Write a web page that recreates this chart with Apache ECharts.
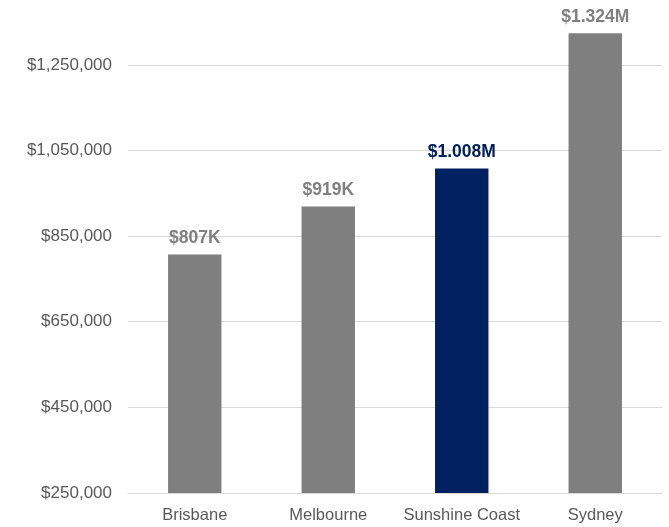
<!DOCTYPE html>
<html>
<head>
<meta charset="utf-8">
<script src="https://cdn.jsdelivr.net/npm/echarts@6/dist/echarts.min.js"></script>
<style>html,body{margin:0;padding:0;background:#fff;}#c{width:669px;height:527px;}</style>
</head>
<body>
<div id="c"></div>
<script>
const categories = ['Brisbane', 'Melbourne', 'Sunshine Coast', 'Sydney'];
const values = [807000, 919000, 1008000, 1324000];
const highlightIndex = 2;
const yMin = 250000, yMax = 1350000, yInterval = 200000;

const GRAY = '#7f7f7f', NAVY = '#002060';
const font = '"Liberation Sans", Arial, Helvetica, sans-serif';

function fmtShort(v) {
  return v >= 1e6 ? '$' + (v / 1e6).toFixed(3) + 'M' : '$' + Math.round(v / 1000) + 'K';
}

const chart = echarts.init(document.getElementById('c'));
chart.setOption({
  animation: false,
  grid: { left: 128, right: 7, top: 22, bottom: 34, containLabel: false },
  xAxis: {
    type: 'category',
    data: categories,
    axisLine: { show: true, lineStyle: { color: '#d9d9d9', width: 1 } },
    axisTick: { show: false },
    axisLabel: { color: '#595959', fontSize: 16.5, fontFamily: font, margin: 14, interval: 0, hideOverlap: false }
  },
  yAxis: {
    type: 'value',
    min: yMin, max: yMax, interval: yInterval,
    axisLine: { show: false },
    axisTick: { show: false },
    splitLine: { show: true, showMaxLine: false, lineStyle: { color: '#d9d9d9', width: 1 } },
    axisLabel: {
      color: '#595959', fontSize: 17, fontFamily: font, margin: 16, showMaxLabel: false,
      formatter: v => '$' + Math.round(v).toLocaleString('en-US')
    }
  },
  series: [{
    type: 'bar',
    barWidth: '40%',
    data: values.map((v, i) => ({
      value: v,
      itemStyle: { color: i === highlightIndex ? NAVY : GRAY },
      label: { color: i === highlightIndex ? NAVY : '#808080' }
    })),
    label: {
      show: true, position: 'top', distance: 7,
      fontSize: 17.5, fontWeight: 'bold', fontFamily: font,
      formatter: p => fmtShort(p.value)
    }
  }]
});
</script>
</body>
</html>
